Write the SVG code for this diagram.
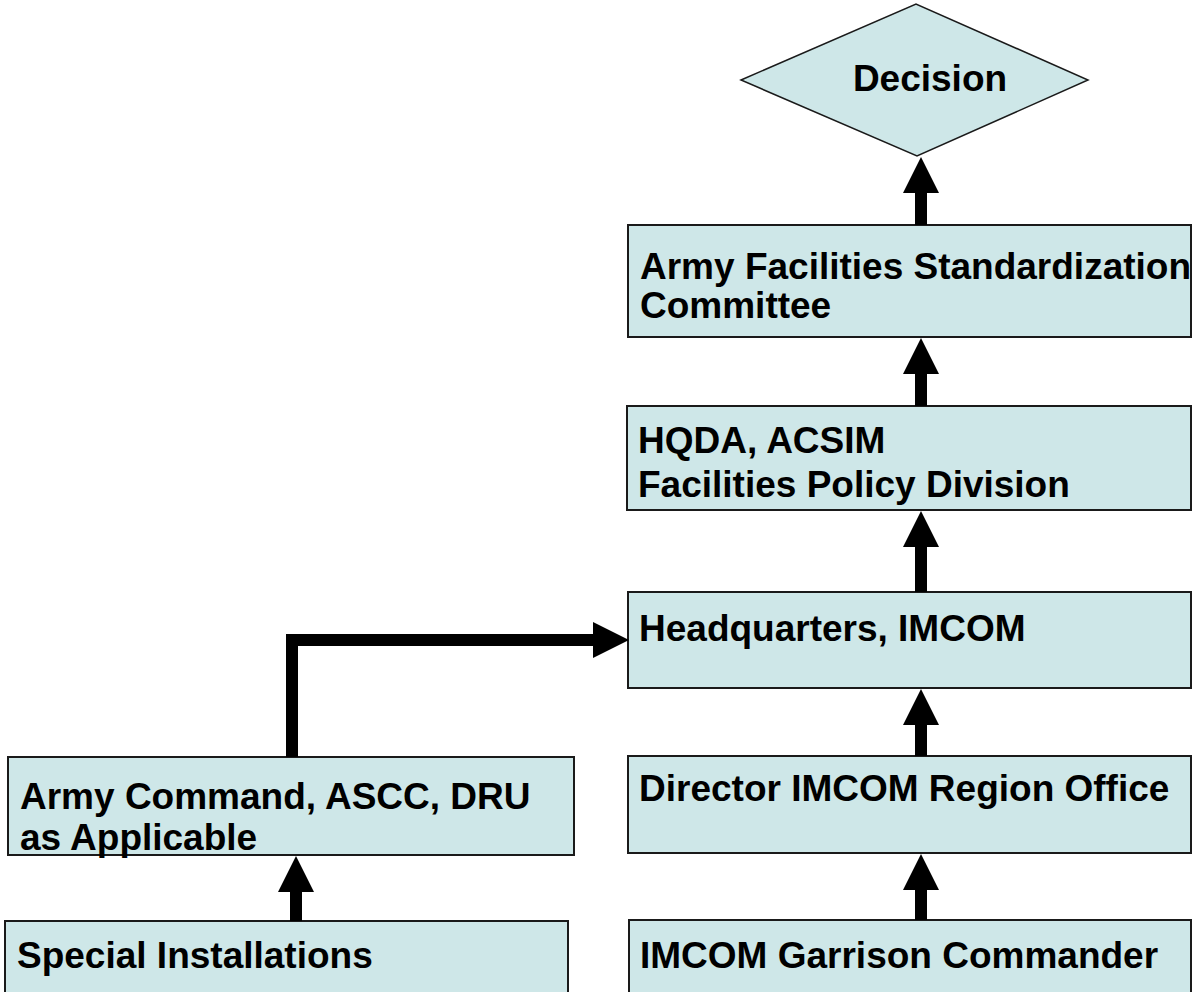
<svg xmlns="http://www.w3.org/2000/svg" width="1192" height="992" viewBox="0 0 1192 992">
<style>
.box{fill:#CEE7E8;stroke:#1a1a1a;stroke-width:2}
.dia{fill:#CEE7E8;stroke:#1a1a1a;stroke-width:1.5}
.t{font-family:"Liberation Sans",Arial,sans-serif;font-weight:bold;font-size:37px;fill:#000}
.c{fill:none;stroke:#000;stroke-width:12;stroke-linejoin:miter}
</style>
<defs>
<marker id="ah" markerUnits="userSpaceOnUse" markerWidth="36" markerHeight="36" viewBox="0 0 36 36" refX="0" refY="18" orient="auto">
<path d="M0,0 L36,18 L0,36 z" fill="#000"/>
</marker>
</defs>
<rect width="1192" height="992" fill="#fff"/>
<g id="decision">
<polygon class="dia" points="741,80 916,4 1088,80 917,156"/>
<text class="t" x="930" y="91" text-anchor="middle">Decision</text>
</g>
<g id="afsc">
<rect class="box" x="628" y="225" width="563" height="112"/>
<text class="t" x="640" y="279">Army Facilities Standardization</text>
<text class="t" x="640" y="318">Committee</text>
</g>
<g id="hqda">
<rect class="box" x="627" y="406" width="564" height="104"/>
<text class="t" x="638" y="453">HQDA, ACSIM</text>
<text class="t" x="638" y="497">Facilities Policy Division</text>
</g>
<g id="hqimcom">
<rect class="box" x="628" y="592" width="563" height="96"/>
<text class="t" x="639" y="641">Headquarters, IMCOM</text>
</g>
<g id="director">
<rect class="box" x="628" y="756" width="563" height="97"/>
<text class="t" x="639" y="801">Director IMCOM Region Office</text>
</g>
<g id="garrison">
<rect class="box" x="629" y="920" width="562" height="82"/>
<text class="t" x="640" y="968">IMCOM Garrison Commander</text>
</g>
<g id="armycommand">
<rect class="box" x="8" y="757" width="566" height="98"/>
<text class="t" x="20" y="809">Army Command, ASCC, DRU</text>
<text class="t" x="20" y="850">as Applicable</text>
</g>
<g id="special">
<rect class="box" x="5" y="921" width="563" height="82"/>
<text class="t" x="17" y="968">Special Installations</text>
</g>
<g id="connectors">
<path class="c" d="M921,225 V193" marker-end="url(#ah)"/>
<path class="c" d="M921,406 V374" marker-end="url(#ah)"/>
<path class="c" d="M921,592 V547" marker-end="url(#ah)"/>
<path class="c" d="M921,756 V725" marker-end="url(#ah)"/>
<path class="c" d="M921,920 V890" marker-end="url(#ah)"/>
<path class="c" d="M296,921 V892" marker-end="url(#ah)"/>
<path class="c" d="M292,757 V640 H593" marker-end="url(#ah)"/>
</g>
</svg>
